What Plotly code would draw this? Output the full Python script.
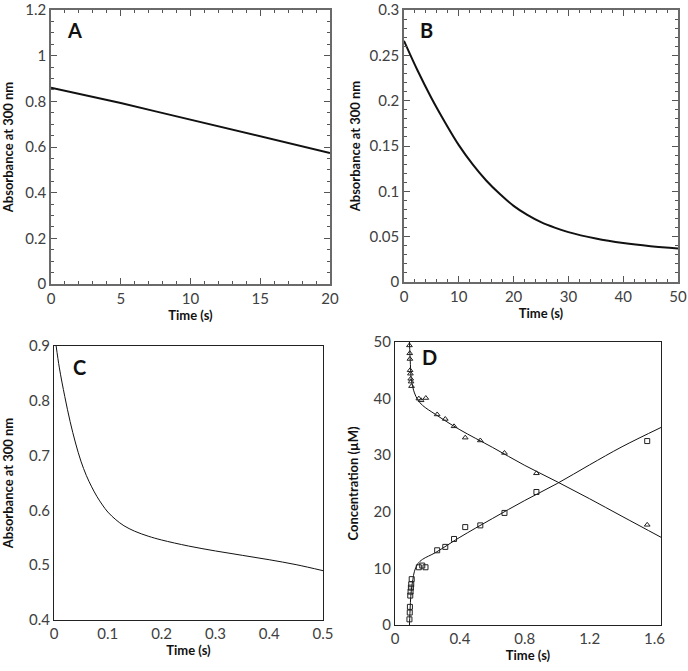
import plotly.graph_objects as go

W, H = 688, 671

# ---------------- data ----------------
# Panel A
a_time = [0, 2.5, 5, 7.5, 10, 12.5, 15, 17.5, 20]
a_abs = [0.860, 0.828, 0.793, 0.756, 0.720, 0.683, 0.645, 0.610, 0.574]

# Panel B
b_time = [0, 2.5, 5, 7.5, 10, 12.5, 15, 17.5, 20, 22.5, 25, 27.5, 30, 35, 40, 45, 50]
b_abs = [0.266, 0.233, 0.203, 0.176, 0.151, 0.130, 0.112, 0.097, 0.084, 0.074,
         0.066, 0.060, 0.055, 0.048, 0.043, 0.0395, 0.037]

# Panel C
c_time = [0.004, 0.010, 0.020, 0.030, 0.040, 0.050, 0.060, 0.070, 0.080, 0.090,
          0.100, 0.115, 0.130, 0.150, 0.175, 0.200, 0.250, 0.300, 0.350, 0.400,
          0.450, 0.500]
c_abs = [0.900, 0.860, 0.808, 0.762, 0.723, 0.690, 0.664, 0.643, 0.625, 0.610,
         0.597, 0.583, 0.572, 0.562, 0.553, 0.546, 0.535, 0.526, 0.518, 0.510,
         0.501, 0.490]

# Panel D: measured points
d_tri_t = [0.089, 0.091, 0.092, 0.093, 0.095, 0.097, 0.099, 0.102, 0.147, 0.161,
           0.190, 0.260, 0.310, 0.364, 0.433, 0.526, 0.675, 0.872, 1.555]
d_tri_c = [49.4, 48.0, 47.0, 45.0, 44.4, 43.5, 43.0, 42.2, 40.0, 39.7,
           40.1, 37.2, 36.4, 35.1, 33.1, 32.6, 30.4, 26.8, 17.7]
d_sq_t = [0.089, 0.091, 0.092, 0.094, 0.096, 0.098, 0.100, 0.103, 0.147, 0.168,
          0.188, 0.260, 0.310, 0.364, 0.433, 0.526, 0.675, 0.872, 1.555]
d_sq_c = [1.0, 2.2, 3.2, 5.2, 5.9, 6.6, 7.2, 8.1, 10.2, 10.5,
          10.2, 13.2, 13.8, 15.2, 17.3, 17.6, 19.8, 23.5, 32.5]
# Panel D: fitted curves
d_fit_tri_t = [0.089, 0.095, 0.100, 0.110, 0.120, 0.140, 0.170, 0.250, 0.400,
               0.600, 0.800, 1.000, 1.200, 1.400, 1.640]
d_fit_tri_c = [50.0, 46.0, 43.5, 42.0, 41.0, 39.8, 38.8, 37.2, 34.5,
               31.4, 28.2, 25.3, 22.3, 19.2, 15.5]
d_fit_sq_t = [0.089, 0.092, 0.095, 0.100, 0.110, 0.120, 0.140, 0.170, 0.250,
              0.400, 0.600, 0.800, 1.000, 1.200, 1.400, 1.640]
d_fit_sq_c = [0.0, 2.0, 4.0, 6.0, 8.0, 9.5, 10.8, 11.6, 12.8,
              15.5, 18.8, 22.0, 25.0, 28.3, 31.5, 34.9]

x_title = "Time (s)"
y_title_abs = "Absorbance at 300 nm"
y_title_conc = "Concentration (µM)"
panel_labels = ["A", "B", "C", "D"]

# ---------------- layout helpers ----------------
def dom_x(p0, p1):
    return [p0 / W, p1 / W]

def dom_y(top, bottom):
    return [1 - bottom / H, 1 - top / H]

FONT = "Lato, 'Open Sans', sans-serif"
TICKFONT = dict(family=FONT, size=15, color="#404040")
TITLEFONT = dict(family=FONT, size=13, color="#111111")

fig = go.Figure()

line_thick = dict(color="#111111", width=2)
line_thin = dict(color="#111111", width=1)

fig.add_trace(go.Scatter(x=a_time, y=a_abs, mode="lines", line=line_thick,
                         xaxis="x", yaxis="y", showlegend=False))
fig.add_trace(go.Scatter(x=b_time, y=b_abs, mode="lines", line=dict(line_thick, shape="spline"),
                         xaxis="x2", yaxis="y2", showlegend=False))
fig.add_trace(go.Scatter(x=c_time, y=c_abs, mode="lines", line=dict(line_thin, shape="spline"),
                         xaxis="x3", yaxis="y3", showlegend=False))
fig.add_trace(go.Scatter(x=d_fit_tri_t, y=d_fit_tri_c, mode="lines",
                         line=dict(line_thin, shape="spline"),
                         xaxis="x4", yaxis="y4", showlegend=False))
fig.add_trace(go.Scatter(x=d_fit_sq_t, y=d_fit_sq_c, mode="lines",
                         line=dict(line_thin, shape="spline"),
                         xaxis="x4", yaxis="y4", showlegend=False))
fig.add_trace(go.Scatter(x=d_tri_t, y=d_tri_c, mode="markers",
                         marker=dict(symbol="triangle-up-open", size=5, color="#222222",
                                     line=dict(width=1)),
                         xaxis="x4", yaxis="y4", showlegend=False))
fig.add_trace(go.Scatter(x=d_sq_t, y=d_sq_c, mode="markers",
                         marker=dict(symbol="square-open", size=5, color="#222222",
                                     line=dict(width=1)),
                         xaxis="x4", yaxis="y4", showlegend=False))

def ticked_axis(domain, rng, dtick, minor_dtick, title, anchor, standoff):
    return dict(domain=domain, range=rng, dtick=dtick, tick0=0, automargin=False,
                showgrid=False, zeroline=False,
                showline=True, linecolor="#6a6a6a", linewidth=1.5, mirror="ticks",
                ticks="inside", ticklen=6, tickwidth=1, tickcolor="#555555",
                minor=dict(dtick=minor_dtick, ticks="inside", ticklen=3,
                           tickwidth=1, tickcolor="#555555", showgrid=False),
                tickfont=TICKFONT, anchor=anchor, ticklabeloverflow="allow",
                title=dict(text="<b>%s</b>" % title, font=TITLEFONT, standoff=standoff))

def plain_axis(domain, rng, dtick, title, anchor, standoff):
    return dict(domain=domain, range=rng, dtick=dtick, tick0=0, automargin=False,
                showgrid=False, zeroline=False,
                showline=True, linecolor="#222222", linewidth=1, mirror=True,
                ticks="", tickfont=TICKFONT, anchor=anchor, ticklabeloverflow="allow",
                title=dict(text="<b>%s</b>" % title, font=TITLEFONT, standoff=standoff))

fig.update_layout(
    width=W, height=H,
    margin=dict(l=0, r=0, t=0, b=0),
    paper_bgcolor="white", plot_bgcolor="white",
    xaxis=ticked_axis(dom_x(51, 330), [0, 20], 5, 1, x_title, "y", 4),
    yaxis=ticked_axis(dom_y(10, 284), [0, 1.2], 0.2, 0.05, y_title_abs, "x", 10),
    xaxis2=ticked_axis(dom_x(404, 678), [0, 50], 10, 2, x_title, "y2", 4),
    yaxis2=ticked_axis(dom_y(10, 282), [0, 0.3], 0.05, 0.01, y_title_abs, "x2", 6),
    xaxis3=plain_axis(dom_x(54, 323), [0, 0.5], 0.1, x_title, "y3", 4),
    yaxis3=plain_axis(dom_y(346, 620), [0.4, 0.9], 0.1, y_title_abs, "x3", 12),
    xaxis4=plain_axis(dom_x(395, 661), [0, 1.64], 0.4, x_title, "y4", 4),
    yaxis4=plain_axis(dom_y(342, 625), [0, 50], 10, y_title_conc, "x4", 12),
)

label_pos = [("x", "y", 74, 30), ("x2", "y2", 426, 30), ("x3", "y3", 79, 367), ("x4", "y4", 429, 357)]
for txt, (xa, ya, px, py) in zip(panel_labels, label_pos):
    fig.add_annotation(text="<b>%s</b>" % txt, xref="paper", yref="paper",
                       x=px / W, y=1 - py / H, showarrow=False,
                       xanchor="center", yanchor="middle",
                       font=dict(family=FONT, size=20, color="#111111"))

# remove the browser's default 8px body margin so the figure fills the window exactly
fig.write_html("out.html", config={"displayModeBar": False},
               post_script="document.body.style.margin='0px';")
